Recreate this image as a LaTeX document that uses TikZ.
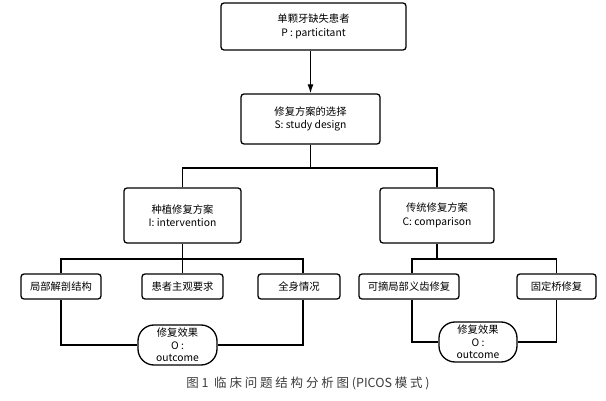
\documentclass[tikz,border=0pt]{standalone}
\usepackage{fontspec}
\setmainfont{Open Sans}
\newfontfamily\cjk{Noto Sans CJK SC}
\usetikzlibrary{arrows.meta}
\definecolor{capgray}{RGB}{60,60,60}
\begin{document}
\begin{tikzpicture}[x=1pt,y=-1pt,
  box/.style={draw, line width=1.3pt, rounded corners=3pt, align=center, inner sep=1pt, font=\cjk\fontsize{10.3}{13.5}\selectfont},
  stad/.style={draw, line width=1.3pt, rounded corners=16pt, align=center, inner sep=1pt, font=\cjk\fontsize{10.3}{12.5}\selectfont},
  conn/.style={line width=1.3pt}]
\useasboundingbox (0,0) rectangle (606,401);
\node[box, minimum width=185pt, minimum height=47pt] (P) at (313.5,26.5) {单颗牙缺失患者\\P : particitant};
\node[box, minimum width=139pt, minimum height=50pt] (S) at (310.5,119) {修复方案的选择\\S: study design};
\node[box, minimum width=117pt, minimum height=55pt] (I) at (182.5,215.5) {种植修复方案\\I: intervention};
\node[box, minimum width=114pt, minimum height=55pt] (C) at (437,215.5) {传统修复方案\\C: comparison};
\node[box, minimum width=80pt, minimum height=25pt] (a1) at (61,286.5) {局部解剖结构};
\node[box, minimum width=81pt, minimum height=25pt] (a2) at (182.5,286.5) {患者主观要求};
\node[box, minimum width=82pt, minimum height=25pt] (a3) at (299,286.5) {全身情况};
\node[box, minimum width=100pt, minimum height=25pt] (b1) at (409,286.5) {可摘局部义齿修复};
\node[box, minimum width=79pt, minimum height=25pt] (b2) at (556.5,286.5) {固定桥修复};
\node[stad, minimum width=79pt, minimum height=40pt] (o1) at (177.5,345) {修复效果\\O :\\outcome};
\node[stad, minimum width=78pt, minimum height=40pt] (o2) at (478,342) {修复效果\\O :\\outcome};
\node[font=\cjk\fontsize{12.5}{14}\selectfont, text=capgray] (cap) at (308,383) {图 1\ \ 临 床 问 题 结 构 分 析 图 (PICOS\ 模 式 )};
% connectors
\draw[conn, -{Latex[length=9pt,width=6pt]}] (P.south -| S.north) -- (S.north);
\coordinate (j1) at (310.5,168);
\draw[conn] (S.south) -- (j1);
\draw[conn] (j1) -| (I.north);
\draw[conn] (j1) -| (C.north);
\coordinate (j2) at (182.5,259);
\draw[conn] (I.south) -- (j2);
\draw[conn] (j2) -| (a1.north);
\draw[conn] (a2.north) -- (j2);
\draw[conn] (j2) -| ([xshift=4pt]a3.north);
\draw[conn] (a1.south) |- (o1.west);
\draw[conn] ([xshift=4pt]a3.south) |- (o1.east);
\coordinate (j3) at (437,259);
\draw[conn] (C.south) -- (j3);
\draw[conn] (j3) -| ([xshift=3pt]b1.north);
\draw[conn] (j3) -| (b2.north);
\draw[conn] ([xshift=3pt]b1.south) |- (o2.west);
\draw[conn] (b2.south) |- (o2.east);
\end{tikzpicture}
\end{document}
